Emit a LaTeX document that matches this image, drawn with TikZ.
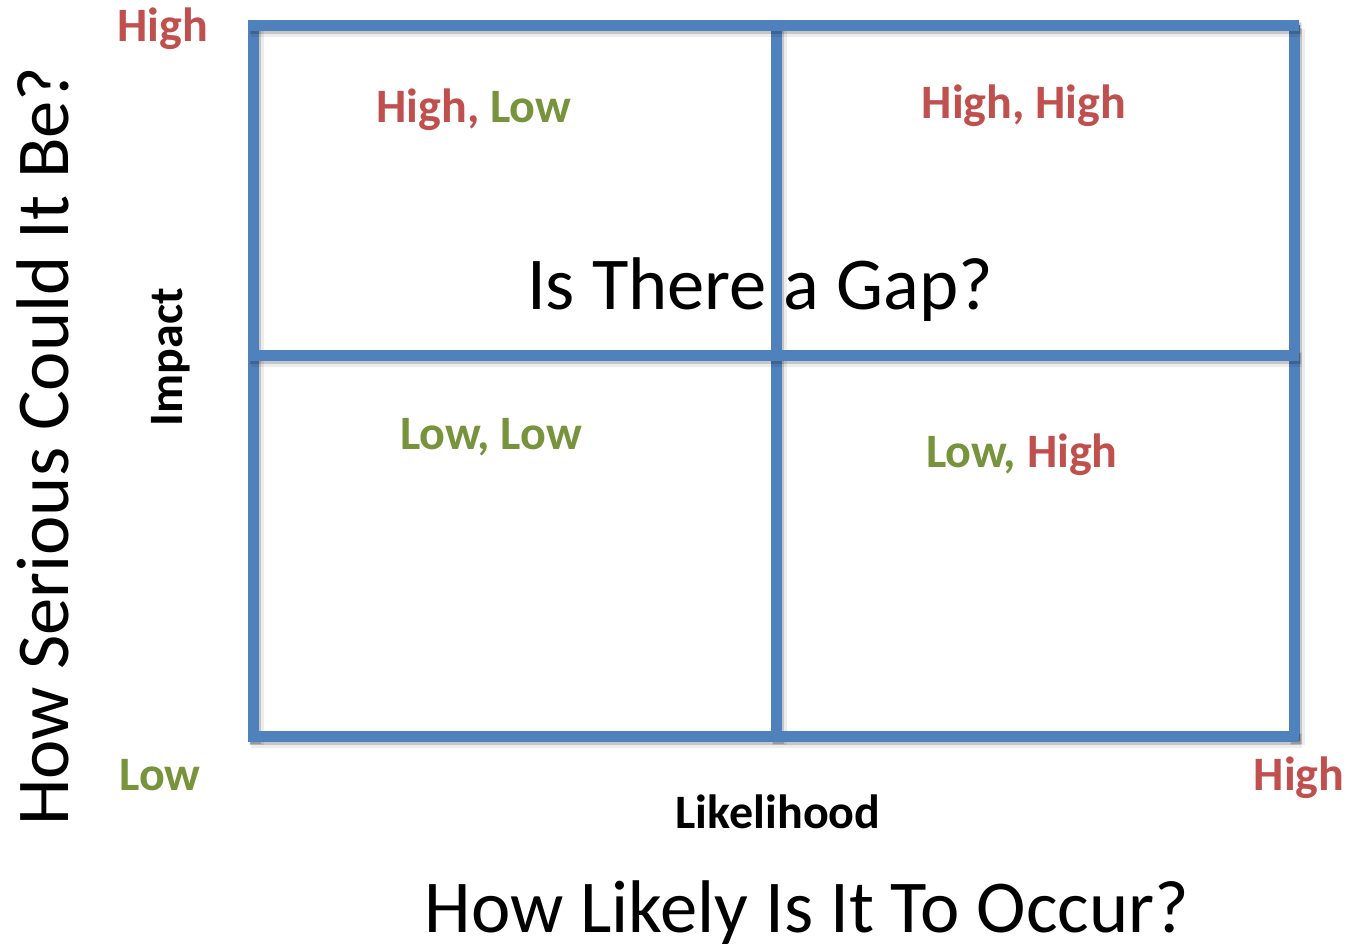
\documentclass[tikz,border=0pt]{standalone}
\usepackage{fontspec}
\setmainfont{Carlito}
\definecolor{gridblue}{HTML}{4F81BD}
\definecolor{hired}{HTML}{C0504D}
\definecolor{logreen}{HTML}{77933C}

\begin{document}
\begin{tikzpicture}[x=1pt,y=-1pt,
  gridline/.style={draw=gridblue,line width=11pt},
  softshadow/.style={draw=black,line width=15pt,opacity=0.07},
  hardshadow/.style={draw=black,line width=11pt,opacity=0.16},
  lbl/.style={font=\fontsize{48}{52}\selectfont\bfseries,anchor=base,inner sep=0pt},
  big/.style={font=\fontsize{74.6}{80}\selectfont,anchor=base,inner sep=0pt}]

\fill[white] (0,0) rectangle (1346,943);
\useasboundingbox (0,0) rectangle (1346,943);

% grid corner and crossing points
\coordinate (tw) at (248,25);  \coordinate (te) at (1299,25);
\coordinate (mw) at (248,355); \coordinate (me) at (1299,355);
\coordinate (bw) at (248,736); \coordinate (be) at (1299,736);
\coordinate (lt) at (253,25);  \coordinate (lb) at (253,741);
\coordinate (ct) at (776,25);  \coordinate (cb) at (776,741);
\coordinate (rt) at (1294,25); \coordinate (rb) at (1294,741);

% vertical rules with their shadows
\begin{scope}[transform canvas={shift={(3,4)}}]
  \foreach \a/\b in {lt/lb,ct/cb,rt/rb} \draw[softshadow] (\a) -- (\b);
\end{scope}
\begin{scope}[transform canvas={shift={(2,3)}}]
  \foreach \a/\b in {lt/lb,ct/cb,rt/rb} \draw[hardshadow] (\a) -- (\b);
\end{scope}
\foreach \a/\b in {lt/lb,ct/cb,rt/rb} \draw[gridline] (\a) -- (\b);

% horizontal rules with their shadows
\begin{scope}[transform canvas={shift={(3,4)}}]
  \foreach \a/\b in {tw/te,mw/me,bw/be} \draw[softshadow] (\a) -- (\b);
\end{scope}
\begin{scope}[transform canvas={shift={(2,3)}}]
  \foreach \a/\b in {tw/te,mw/me,bw/be} \draw[hardshadow] (\a) -- (\b);
\end{scope}
\foreach \a/\b in {tw/te,mw/me,bw/be} \draw[gridline] (\a) -- (\b);

% axis end labels
\node[lbl,text=hired]   (yhigh) at (163,41)  {High};
\node[lbl,text=logreen] (ylow)  at (160,790) {Low};
\node[lbl,text=hired]   (xhigh) at (1299,790) {High};

% quadrant labels
\node[lbl] (q1) at (474,122) {\textcolor{hired}{High,} \textcolor{logreen}{Low}};
\node[lbl,text=hired] (q2) at (1024,118) {High, High};
\node[lbl,text=logreen] (q3) at (491,449) {Low, Low};
\node[lbl] (q4) at (1022,467) {\textcolor{logreen}{Low,} \textcolor{hired}{High}};

% centre question
\node[big] (gap) at (760,309) {Is There a Gap?};

% axis titles
\node[lbl] (likeli) at (778,828) {Likelihood};
\node[lbl,rotate=90] (impact) at (182,357) {Impact};
\node[big] (xq) at (807,932) {How Likely Is It To Occur?};
\node[big,rotate=90] (yq) at (68,446) {How Serious Could It Be?};
\end{tikzpicture}
\end{document}
